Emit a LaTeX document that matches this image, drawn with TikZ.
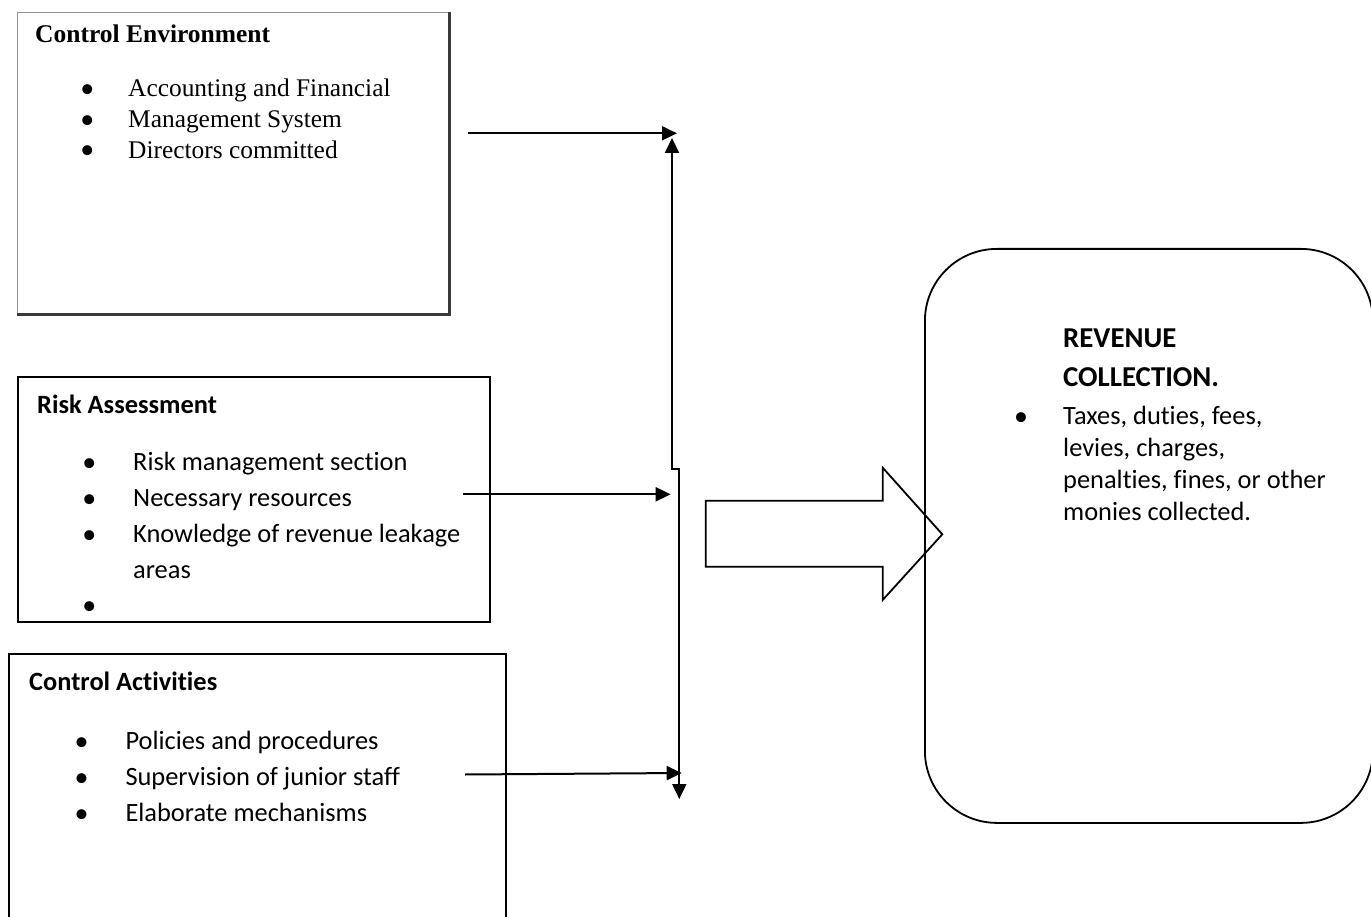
\documentclass[tikz,border=0pt]{standalone}
\usepackage{fontspec}
\setmainfont{Carlito}[Ligatures=NoCommon]
\newfontfamily\timesfont{Liberation Serif}
\usetikzlibrary{arrows.meta}
\tikzset{
  boxline/.style={draw=black, line width=2pt, inner sep=0pt, anchor=north west},
  cebox/.style={draw=gray!85, line width=1.6pt, inner sep=0pt, anchor=north west},
  shadowline/.style={draw=gray!45!black, line width=2.6pt},
  body/.style={font=\fontsize{26.4}{32}\selectfont, anchor=base west, inner sep=0pt},
  head/.style={font=\bfseries\fontsize{26.4}{32}\selectfont, anchor=base west, inner sep=0pt},
  bighead/.style={font=\bfseries\fontsize{28.8}{35}\selectfont, anchor=base west, inner sep=0pt},
  bul/.style={font=\fontsize{28}{32}\selectfont, anchor=base, inner sep=0pt},
  tbody/.style={font=\timesfont\fontsize{25.4}{30}\selectfont, anchor=base west, inner sep=0pt},
  thead/.style={font=\timesfont\bfseries\fontsize{25.5}{30}\selectfont, anchor=base west, inner sep=0pt},
  tip/.style={-{Triangle[length=15pt,width=14pt]}},
  conn/.style={line width=2pt, tip},
  dconn/.style={line width=2pt, {Triangle[length=15pt,width=14pt]}-{Triangle[length=15pt,width=14pt]}},
  blockarrow/.style={draw=black, fill=white, line width=1.8pt, line join=miter},
  roundbox/.style={draw=black, line width=1.8pt, rounded corners=72pt},
}
\begin{document}
\begin{tikzpicture}[x=1pt,y=-1pt]
\useasboundingbox (0,0) rectangle (1371,917);
\fill[white] (0,0) rectangle (1371,917);

% Control Environment box
\node[cebox, minimum width=431.3pt, minimum height=301.3pt] (ce) at (16.7,11.7) {};
\draw[shadowline] (ce.north east) -- (ce.south east) -- (ce.south west);
\node[thead] (cet) at (35,43) {Control Environment};
\node[bul] (ceb1) at (87.3,98) {•};
\node[bul] (ceb2) at (87.3,129) {•};
\node[bul] (ceb3) at (87.3,159) {•};
\node[tbody] (ce1) at (128,97) {Accounting and Financial};
\node[tbody] (ce2) at (128,128) {Management System};
\node[tbody] (ce3) at (128,159) {Directors committed};

% Risk Assessment box
\node[boxline, minimum width=472.3pt, minimum height=245pt] (ra) at (16.7,376) {};
\node[head] (rat) at (37,413) {Risk Assessment};
\node[bul] (rab1) at (89.3,471) {•};
\node[bul] (rab2) at (89.3,507) {•};
\node[bul] (rab3) at (89.3,543) {•};
\node[bul] (rab4) at (89.3,614) {•};
\node[body] (ra1) at (133,470) {Risk management section};
\node[body] (ra2) at (133,506) {Necessary resources};
\node[body] (ra3) at (133,542) {Knowledge of revenue leakage};
\node[body] (ra4) at (133,578) {areas};

% Control Activities box
\node[boxline, minimum width=496.7pt, minimum height=280pt] (ca) at (8.3,653) {};
\node[head] (cat) at (29,690) {Control Activities};
\node[bul] (cab1) at (81.7,750) {•};
\node[bul] (cab2) at (81.7,786) {•};
\node[bul] (cab3) at (81.7,822) {•};
\node[body] (ca1) at (125.3,749) {Policies and procedures};
\node[body] (ca2) at (125.3,785) {Supervision of junior staff};
\node[body] (ca3) at (125.3,821) {Elaborate mechanisms};

% Block arrow
\draw[blockarrow] (705.7,500.7) -- (882.7,500.7) -- (882.7,467.7) -- (942.3,534.3)
  -- (882.7,600) -- (882.7,566.7) -- (705.7,566.7) -- cycle;

% Revenue collection rounded box
\node[roundbox, minimum width=448pt, minimum height=574pt, anchor=north west, inner sep=0pt] (rc) at (924,248) {};
\node[bighead] (rct1) at (1063,348) {REVENUE};
\node[bighead] (rct2) at (1063,386) {COLLECTION.};
\node[bul] (rcb) at (1021,425) {•};
\node[body] (rc1) at (1063,424) {Taxes, duties, fees,};
\node[body] (rc2) at (1063,456) {levies, charges,};
\node[body] (rc3) at (1063,488) {penalties, fines, or other};
\node[body] (rc4) at (1063,520) {monies collected.};

% Connectors
\coordinate (a1s) at (468,133.3);
\coordinate (a1e) at (677,133.3);
\coordinate (a2s) at (463,494.3);
\coordinate (a2e) at (670.7,494.3);
\coordinate (a3s) at (465,774.5);
\coordinate (a3e) at (681.7,773);
\coordinate (vtop) at (672,138);
\coordinate (vj1) at (672,469);
\coordinate (vj2) at (679.3,469);
\coordinate (vbot) at (679.3,799);
\draw[conn] (a1s) -- (a1e);
\draw[conn] (a2s) -- (a2e);
\draw[conn] (a3s) -- (a3e);
\draw[dconn] (vtop) -- (vj1) -- (vj2) -- (vbot);
\end{tikzpicture}
\end{document}
